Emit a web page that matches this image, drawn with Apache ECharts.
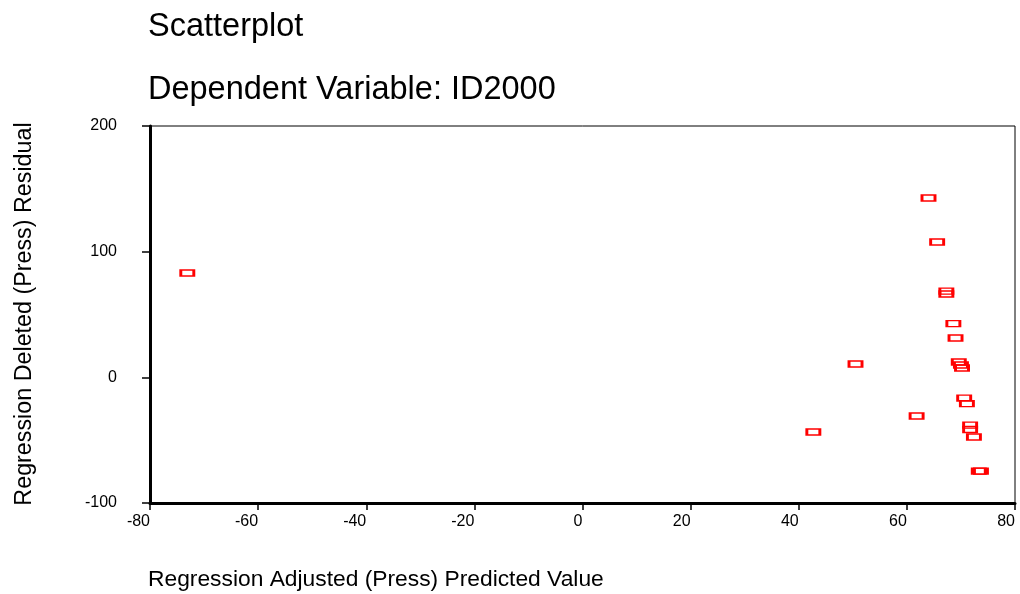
<!DOCTYPE html>
<html>
<head>
<meta charset="utf-8">
<script src="https://cdn.jsdelivr.net/npm/echarts@6/dist/echarts.min.js"></script>
<style>html,body{margin:0;padding:0;background:#fff}#c{width:1020px;height:594px}</style>
</head>
<body>
<div id="c"></div>
<script>
const titleText = "Scatterplot";
const subtitleText = "Dependent Variable: ID2000";
const xName = "Regression Adjusted (Press) Predicted Value";
const yName = "Regression Deleted (Press) Residual";
const predicted = [-73.1, 64.0, 65.6, 67.3, 67.3, 68.6, 69.0, 69.6, 70.0, 70.2, 50.5, 70.6, 71.1, 61.8, 71.7, 71.7, 72.4, 42.7, 73.3, 73.7];
const residual  = [83.0, 142.7, 107.7, 68.6, 66.3, 42.7, 31.3, 12.2, 9.8, 7.4, 10.6, -16.5, -20.9, -30.8, -38.0, -41.5, -47.5, -43.5, -74.6, -74.6];
const xTicks = [-80, -60, -40, -20, 0, 20, 40, 60, 80];
const yTicks = [-100, 0, 100, 200];

const FONT = "Liberation Sans, Arial, sans-serif";
const chart = echarts.init(document.getElementById('c'), null, {renderer: 'canvas'});
const pts = predicted.map((x, i) => [x, residual[i]]);
chart.setOption({
  animation: false,
  backgroundColor: '#fff',
  title: [
    {text: titleText, left: 143, top: 6, textStyle: {fontFamily: FONT, fontSize: 32.5, fontWeight: 'normal', color: '#000'}},
    {text: subtitleText, left: 143, top: 69, textStyle: {fontFamily: FONT, fontSize: 32.5, fontWeight: 'normal', color: '#000'}}
  ],
  graphic: [
    {type: 'text', left: 148, top: 568, style: {text: xName, font: '22.8px ' + FONT, fill: '#000'}},
    {type: 'text', x: 36, y: 314, rotation: Math.PI / 2,
     style: {text: yName, font: '23.3px ' + FONT, fill: '#000', align: 'center', verticalAlign: 'bottom'}}
  ],
  grid: {left: 150, right: 5, top: 126, bottom: 91, show: true, borderColor: '#000', borderWidth: 1, backgroundColor: 'transparent'},
  xAxis: {
    type: 'value', min: xTicks[0], max: xTicks[xTicks.length - 1], interval: 20,
    axisLine: {onZero: false, lineStyle: {color: '#000', width: 3}},
    axisTick: {show: true, inside: false, length: 7, lineStyle: {color: '#000', width: 1.5}},
    axisLabel: {margin: 11, fontFamily: FONT, fontSize: 16, color: '#000', align: 'right', showMinLabel: true, showMaxLabel: true},
    splitLine: {show: false}
  },
  yAxis: {
    type: 'value', min: yTicks[0], max: yTicks[yTicks.length - 1], interval: 100,
    axisLine: {onZero: false, lineStyle: {color: '#000', width: 3}},
    axisTick: {show: true, inside: false, length: 8, lineStyle: {color: '#000', width: 1.5}},
    axisLabel: {margin: 33, fontFamily: FONT, fontSize: 16, color: '#000', showMinLabel: true, showMaxLabel: true},
    splitLine: {show: false}
  },
  series: [{
    type: 'scatter',
    data: pts,
    symbol: 'rect',
    symbolSize: [13, 6],
    itemStyle: {color: 'rgba(0,0,0,0)', borderColor: '#ff0000', borderWidth: 2, opacity: 1},
    emphasis: {disabled: true}
  }]
});
</script>
</body>
</html>
